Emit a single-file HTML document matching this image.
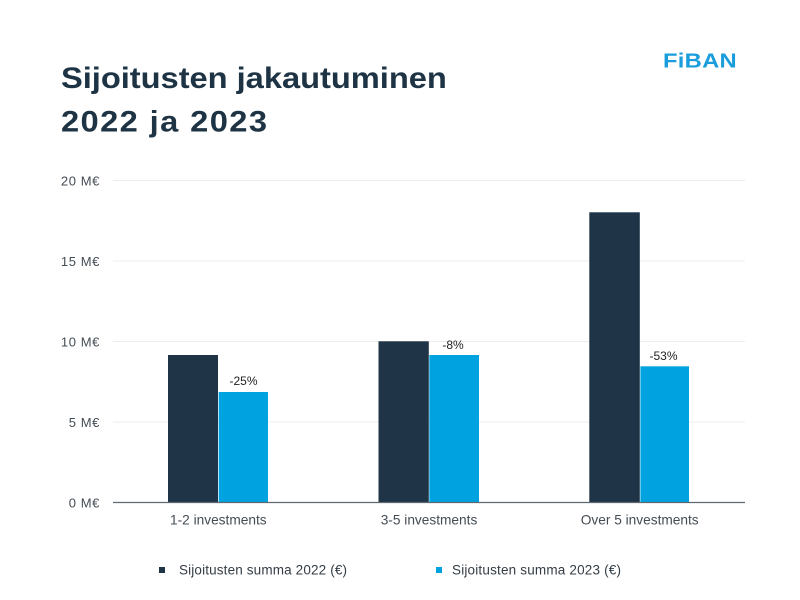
<!DOCTYPE html>
<html>
<head>
<meta charset="utf-8">
<style>
  html, body { margin: 0; padding: 0; background: #ffffff; }
  body { width: 800px; height: 600px; overflow: hidden; }
  svg { display: block; }
  text { font-family: "Liberation Sans", Arial, sans-serif; }
</style>
</head>
<body>
<svg width="800" height="600" viewBox="0 0 800 600" xmlns="http://www.w3.org/2000/svg">
  <rect x="0" y="0" width="800" height="600" fill="#ffffff"/>

  <!-- Title -->
  <g transform="translate(61,88) scale(1.09,1)">
    <text x="0" y="0" font-size="30" font-weight="bold" fill="#1e3445" textLength="354" lengthAdjust="spacing">Sijoitusten jakautuminen</text>
  </g>
  <g transform="translate(61,131.5) scale(1.09,1)">
    <text x="0" y="0" font-size="30" font-weight="bold" fill="#1e3445" textLength="189" lengthAdjust="spacing">2022 ja 2023</text>
  </g>

  <!-- Logo -->
  <g transform="translate(663,67.5) scale(1.16,1)">
    <text x="0" y="0" font-size="20.5" font-weight="bold" fill="#1a9ddc" textLength="63.5" lengthAdjust="spacing">FiBAN</text>
  </g>

  <!-- Gridlines -->
  <g stroke="#ececec" stroke-width="1">
    <line x1="113" y1="180.5" x2="745" y2="180.5"/>
    <line x1="113" y1="261" x2="745" y2="261"/>
    <line x1="113" y1="341.5" x2="745" y2="341.5"/>
    <line x1="113" y1="422" x2="745" y2="422"/>
  </g>

  <!-- Y labels -->
  <g font-size="13" fill="#444c55" text-anchor="end" letter-spacing="0.6">
    <text x="100" y="185.5">20 M€</text>
    <text x="100" y="266">15 M€</text>
    <text x="100" y="346.5">10 M€</text>
    <text x="100" y="427">5 M€</text>
    <text x="100" y="507.5">0 M€</text>
  </g>

  <!-- Bars -->
  <g>
    <rect x="168" y="355" width="50" height="147.5" fill="#1f3447"/>
    <rect x="218.7" y="392" width="49.3" height="110.5" fill="#00a3e0"/>

    <rect x="378.5" y="341.3" width="50.3" height="161.2" fill="#1f3447"/>
    <rect x="429.3" y="355" width="49.7" height="147.5" fill="#00a3e0"/>

    <rect x="589.3" y="212.3" width="50.5" height="290.2" fill="#1f3447"/>
    <rect x="640.4" y="366.3" width="48.6" height="136.2" fill="#00a3e0"/>
  </g>

  <!-- Axis line -->
  <line x1="113" y1="502.5" x2="745" y2="502.5" stroke="#5f6870" stroke-width="1.2"/>

  <!-- Data labels -->
  <g font-size="12" fill="#222" text-anchor="middle">
    <text x="243.5" y="385">-25%</text>
    <text x="453" y="349">-8%</text>
    <text x="663.5" y="360">-53%</text>
  </g>

  <!-- Category labels -->
  <g font-size="13.7" fill="#444c55" text-anchor="middle">
    <text x="218.3" y="524.5">1-2 investments</text>
    <text x="429" y="524.5">3-5 investments</text>
    <text x="639.7" y="524.5">Over 5 investments</text>
  </g>

  <!-- Legend -->
  <rect x="159" y="567" width="6" height="6" fill="#1f3447"/>
  <text x="179" y="574.5" font-size="13.5" fill="#333c45" textLength="168" lengthAdjust="spacing">Sijoitusten summa 2022 (€)</text>
  <rect x="436" y="567" width="6" height="6" fill="#00a3e0"/>
  <text x="452" y="574.5" font-size="13.5" fill="#333c45" textLength="169" lengthAdjust="spacing">Sijoitusten summa 2023 (€)</text>
</svg>
</body>
</html>
